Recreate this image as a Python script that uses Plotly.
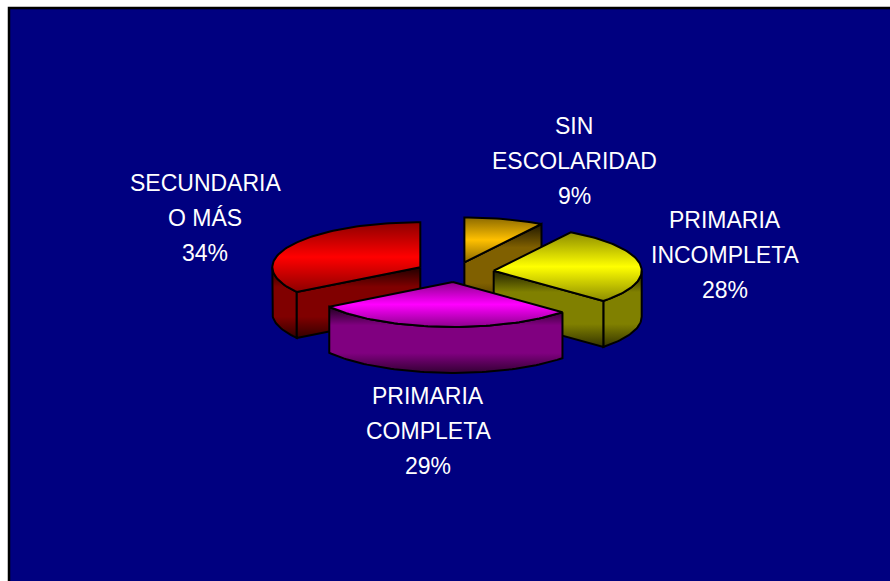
import math
import plotly.graph_objects as go

# Data
categories = [["SIN", "ESCOLARIDAD"], ["PRIMARIA", "INCOMPLETA"], ["PRIMARIA", "COMPLETA"], ["SECUNDARIA", "O MÁS"]]
shares = [9, 28, 29, 34]
bright = [(255, 192, 0), (255, 255, 0), (255, 0, 255), (255, 0, 0)]
label_x = [574, 725, 428, 205]
label_y = [126, 220, 396, 183]
nudge_x = [-1.5, 0, 1.5, -0.5]

W, H = 890, 581
CX, CY = 455, 272
EXPLODE_X, EXPLODE_Y = 39, 10
RX, RY, DEPTH = 148, 45, 46
LINE_GAP = 35
STEPS = 1.5  # degrees between outline samples
BOUNDARY_SHIFT = 1.0  # inner slice boundaries sit about a degree early in the picture


def shade(c, k):
    return f"rgb({round(c[0]*k)},{round(c[1]*k)},{round(c[2]*k)})"


def pt(ax, ay, deg, drop=0):
    a = math.radians(deg)
    return ax + RX * math.sin(a), ay - RY * math.cos(a) + drop


def arc(ax, ay, a0, a1, drop=0):
    n = max(2, int(abs(a1 - a0) / STEPS))
    return [pt(ax, ay, a0 + (a1 - a0) * i / n, drop) for i in range(n + 1)]


def polygon(points, stops):
    xs = [p[0] for p in points] + [points[0][0]]
    ys = [p[1] for p in points] + [points[0][1]]
    return go.Scatter(
        x=xs, y=ys, mode="lines", fill="toself",
        fillgradient=dict(type="vertical", colorscale=stops),
        line=dict(color="black", width=2, shape="linear"),
        hoverinfo="skip", showlegend=False,
    )


total = sum(shares)
slices = []
running = 0
for i, v in enumerate(shares):
    a0 = 360.0 * running / total
    running += v
    a1 = 360.0 * running / total
    mid = math.radians((a0 + a1) / 2)
    ax = CX + EXPLODE_X * math.sin(mid) + nudge_x[i]
    ay = CY - EXPLODE_Y * math.cos(mid)
    drawn0 = a0 - BOUNDARY_SHIFT if running - v > 0 else a0
    drawn1 = a1 - BOUNDARY_SHIFT if running < total else a1
    slices.append(dict(a0=drawn0, a1=drawn1, ax=ax, ay=ay, depth=-math.cos(mid), c=bright[i]))

fig = go.Figure()
for s in sorted(slices, key=lambda d: d["depth"]):
    a0, a1, ax, ay, c = s["a0"], s["a1"], s["ax"], s["ay"], s["c"]
    side = [[0, shade(c, 0.2)], [0.3, shade(c, 0.5)], [0.72, shade(c, 0.5)], [1, shade(c, 0.12)]]
    top = [[0, shade(c, 0.55)], [0.5, shade(c, 1)], [1, shade(c, 0.55)]]
    lo, hi = max(a0, 90), min(a1, 270)
    if lo < hi:
        fig.add_trace(polygon(arc(ax, ay, lo, hi) + arc(ax, ay, hi, lo, DEPTH), side))
    for ang, seen in ((a0, -math.sin(math.radians(a0))), (a1, math.sin(math.radians(a1)))):
        if seen > 1e-6:
            r = pt(ax, ay, ang)
            fig.add_trace(polygon([(ax, ay), r, (r[0], r[1] + DEPTH), (ax, ay + DEPTH)], side))
    fig.add_trace(polygon([(ax, ay)] + arc(ax, ay, a0, a1), top))

annotations = []
for lines, v, x, y in zip(categories, shares, label_x, label_y):
    for j, t in enumerate(lines + [f"{v}%"]):
        annotations.append(dict(
            x=x, y=y + j * LINE_GAP, text=t, showarrow=False, xanchor="center", yanchor="middle",
            font=dict(family="Liberation Sans", size=23, color="white"),
        ))

fig.update_layout(
    width=W, height=H, margin=dict(l=0, r=0, t=0, b=0), autosize=False,
    paper_bgcolor="white", plot_bgcolor="white",
    xaxis=dict(range=[0, W], visible=False, fixedrange=True),
    yaxis=dict(range=[H, 0], visible=False, fixedrange=True),
    annotations=annotations,
    shapes=[dict(type="rect", x0=9, y0=8, x1=W + 20, y1=H + 20, fillcolor="#000080",
                 line=dict(color="black", width=2.5), layer="below")],
)
fig.write_html("out.html", config={"displayModeBar": False},
               post_script="document.body.style.margin='0';document.body.style.overflow='hidden';")
